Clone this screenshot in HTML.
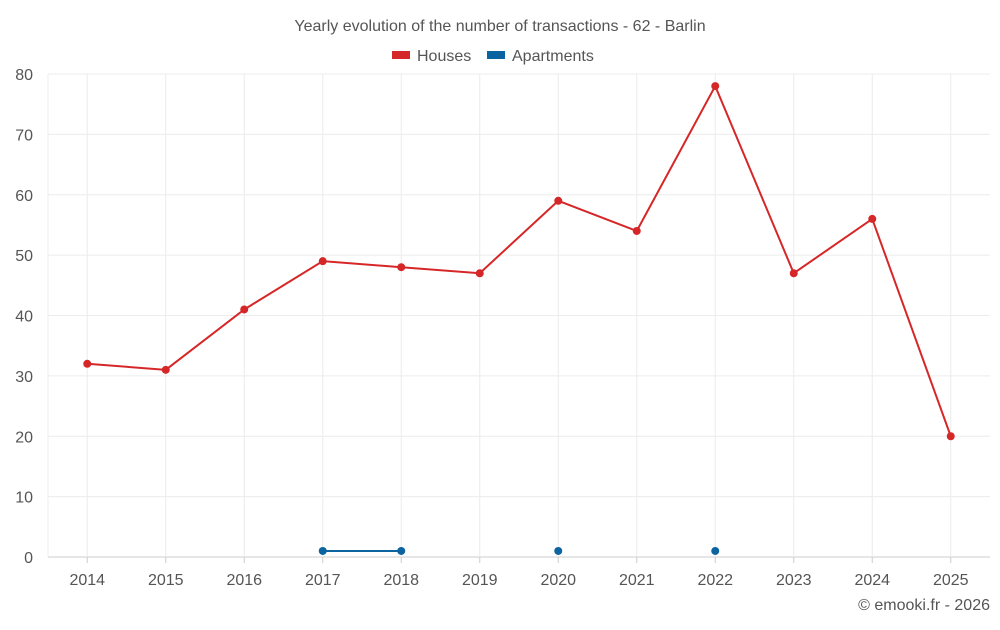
<!DOCTYPE html>
<html><head><meta charset="utf-8"><style>
html,body{margin:0;padding:0;background:#fff;}
svg text{font-family:"Liberation Sans",sans-serif;}
</style></head><body>
<svg id="chart" width="1000" height="625" xmlns="http://www.w3.org/2000/svg">
<text x="500" y="31" text-anchor="middle" font-size="16" fill="#555">Yearly evolution of the number of transactions - 62 - Barlin</text>
<g>
<g><rect x="392" y="51" width="18" height="8" fill="#d62728"/><text x="417" y="61" font-size="16" fill="#555">Houses</text></g>
<g><rect x="487" y="51" width="18" height="8" fill="#0b64a0"/><text x="512" y="61" font-size="16" fill="#555">Apartments</text></g>
</g>
<g id="grid"></g><g id="axes"></g><g id="series"></g>
<text x="990" y="610" text-anchor="end" font-size="16" fill="#555">© emooki.fr - 2026</text>
</svg>
<script>
const categories=["2014","2015","2016","2017","2018","2019","2020","2021","2022","2023","2024","2025"];
const houses=[32,31,41,49,48,47,59,54,78,47,56,20];
const apartments=[null,null,null,1,1,null,1,null,1,null,null,null];
const yTicks=[0,10,20,30,40,50,60,70,80];
const L=48,R=990,T=74,B=557,yMax=80;
const bw=(R-L)/categories.length;
const x=i=>L+bw*(i+0.5);
const y=v=>B-(v/yMax)*(B-T);
const NS="http://www.w3.org/2000/svg";
function mk(parent,tag,attrs){const e=document.createElementNS(NS,tag);for(const k in attrs)e.setAttribute(k,attrs[k]);document.getElementById(parent).appendChild(e);return e;}
yTicks.forEach(t=>{
 const g=mk("grid","line",{x1:L,x2:R,y1:y(t),y2:y(t),stroke:t===0?"#ccc":"#ececec"});
 
 
 const tx=mk("axes","text",{x:33,y:y(t)+6,"text-anchor":"end","font-size":16,fill:"#555"});tx.textContent=t;
 
 
});
const lb=mk("grid","line",{x1:L,x2:L,y1:T,y2:B,stroke:"#ececec"});


categories.forEach((c,i)=>{
 const g=mk("grid","line",{x1:x(i),x2:x(i),y1:T,y2:B,stroke:"#ececec"});
 
 
 const tk=mk("axes","line",{x1:x(i),x2:x(i),y1:B,y2:B+6,stroke:"#ccc"});
 
 
 const tx=mk("axes","text",{x:x(i),y:585,"text-anchor":"middle","font-size":16,fill:"#555"});tx.textContent=c;
 
 
});
function drawSeries(data,color,name){
 let segs=[],cur=[];
 data.forEach((v,i)=>{if(v==null){if(cur.length)segs.push(cur);cur=[];}else cur.push([x(i),y(v)]);});
 if(cur.length)segs.push(cur);
 segs.forEach(s=>{if(s.length>1){const p=mk("series","polyline",{points:s.map(p=>p.join(",")).join(" "),fill:"none",stroke:color,"stroke-width":2});
  
  }});
 data.forEach((v,i)=>{if(v==null)return;const c=mk("series","circle",{cx:x(i),cy:y(v),r:4,fill:color});
  
  });
}
drawSeries(houses,"#d62728","houses");
drawSeries(apartments,"#0b64a0","apartments");
</script>
</body></html>
